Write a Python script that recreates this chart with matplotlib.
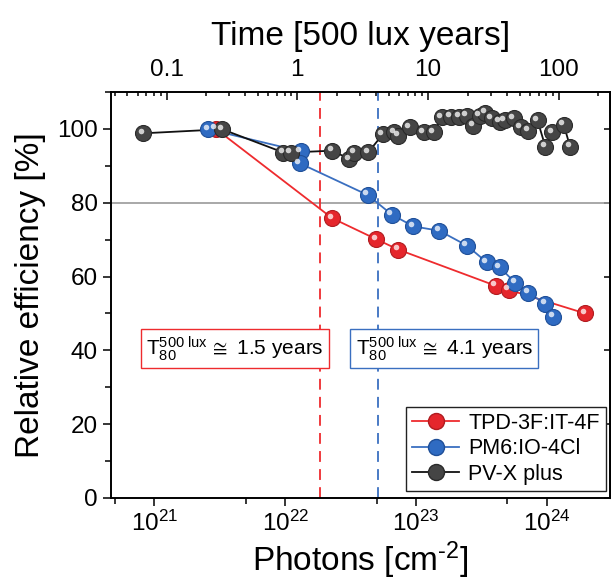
import matplotlib
matplotlib.use("Agg")
import matplotlib.pyplot as plt
from matplotlib.lines import Line2D
from matplotlib.ticker import LogLocator, MultipleLocator, NullFormatter, FuncFormatter
from matplotlib.transforms import offset_copy

plt.rcParams["font.family"] = ["Liberation Sans", "DejaVu Sans"]
plt.rcParams["mathtext.fontset"] = "custom"
plt.rcParams["mathtext.rm"] = "Liberation Sans"
plt.rcParams["mathtext.it"] = "Liberation Sans:italic"
plt.rcParams["mathtext.bf"] = "Liberation Sans:bold"
plt.rcParams["axes.unicode_minus"] = False

# photons per 500 lux year (top axis conversion)
photons_per_year = 1.24e22

# TPD-3F:IT-4F
red_x = [2.95e21, 2.29e22, 4.98e22, 7.33e22, 4.07e23, 5.13e23, 1.97e24]
red_y = [100.0, 75.8, 70.1, 67.3, 57.5, 56.4, 50.0]

# PM6:IO-4Cl
blue_x = [2.59e21, 1.32e22, 1.29e22, 4.27e22, 6.53e22, 9.55e22, 1.51e23,
          2.45e23, 3.47e23, 4.37e23, 5.75e23, 7.24e23, 9.77e23, 1.12e24]
blue_y = [99.9, 93.9, 90.7, 82.1, 76.8, 73.6, 72.4,
          68.4, 63.9, 62.5, 58.3, 55.6, 52.6, 49.1]

# PV-X plus
gray_x = [8.2e20, 3.3e21, 9.7e21, 1.1e22, 2.3e22, 3.1e22, 3.37e22, 4.33e22,
          5.6e22, 6.8e22, 7.3e22, 9.0e22, 1.15e23, 1.37e23, 1.58e23, 1.84e23,
          2.14e23, 2.45e23, 2.75e23, 3.09e23, 3.39e23, 3.8e23, 4.37e23,
          4.79e23, 5.62e23, 6.31e23, 7.24e23, 8.51e23, 9.77e23, 1.1e24,
          1.35e24, 1.51e24]
gray_y = [98.8, 99.9, 93.6, 93.6, 94.1, 91.8, 93.6, 93.7,
          98.6, 99.1, 98.1, 100.4, 99.1, 99.1, 103.2, 103.3,
          103.3, 103.6, 100.8, 103.6, 104.4, 102.9, 102.0,
          102.3, 102.9, 100.5, 99.5, 102.3, 95.2, 99.1,
          101.1, 95.2]

labels = ["TPD-3F:IT-4F", "PM6:IO-4Cl", "PV-X plus"]
t80_years = [1.5, 4.1]

fig = plt.figure(figsize=(6.11, 5.84), dpi=100)
ax = fig.add_axes([0.1817, 0.1473, 0.8167, 0.6952])

ax.set_xscale("log")
ax.set_xlim(4.66e20, 3.05e24)
ax.set_ylim(0, 110)

ax.axhline(80, color="#999999", lw=1.2, zorder=1)

series = [
    (red_x, red_y, "#ee2b2e", "#e5262c", "#b01c20"),
    (blue_x, blue_y, "#3a6fc0", "#2f6bc2", "#1f4f98"),
    (gray_x, gray_y, "#111111", "#454545", "#2a2a2a"),
]

hl = offset_copy(ax.transData, fig=fig, x=-1.8, y=1.8, units="points")
for xs, ys, lc, fc, ec in series:
    ax.plot(xs, ys, color=lc, lw=1.3, zorder=2)
    ax.plot(xs, ys, ls="none", marker="o", ms=11.5, mfc=fc, mec=ec, mew=0.8, zorder=3)
    ax.plot(xs, ys, ls="none", marker="o", ms=4, mfc="white", mec="none",
            alpha=0.75, transform=hl, zorder=4)

# T80 dashed lines and boxes
dash_colors = ["#ee2b2e", "#3a6fc0"]
box_x = [4.1e21, 1.65e23]
for t, c, bx in zip(t80_years, dash_colors, box_x):
    ax.axvline(t * photons_per_year, color=c, lw=1.3, ls=(0, (6, 4)), zorder=1)
    ax.text(bx, 40.4, r"$\mathregular{T_{80}^{500\ lux}}\,{\cong}$ " + f"{t} years",
            fontsize=15, ha="center", va="center", zorder=5,
            bbox=dict(boxstyle="square,pad=0.25", fc="white", ec=c, lw=1.0))

# ticks
ax.yaxis.set_major_locator(MultipleLocator(20))
ax.yaxis.set_minor_locator(MultipleLocator(10))
ax.xaxis.set_major_locator(LogLocator(base=10, numticks=10))
ax.xaxis.set_minor_locator(LogLocator(base=10, subs=[5], numticks=10))
ax.xaxis.set_minor_formatter(NullFormatter())
ax.tick_params(axis="both", which="major", labelsize=17.5, direction="out",
               length=6, width=1.1)
ax.tick_params(axis="both", which="minor", direction="out", length=4, width=1.1)
for sp in ax.spines.values():
    sp.set_linewidth(1.2)

# right ticks inward only (major)
axr = ax.secondary_yaxis("right")
axr.yaxis.set_major_locator(MultipleLocator(20))
axr.tick_params(direction="in", length=4, width=1.1, labelright=False)

ax.set_xlabel(r"Photons [cm$^{\text{-2}}$]", fontsize=24, labelpad=2)
ax.set_ylabel("Relative efficiency [%]", fontsize=24, labelpad=8)

# top time axis
axt = ax.twiny()
axt.set_xscale("log")
lo, hi = ax.get_xlim()
axt.set_xlim(lo / photons_per_year, hi / photons_per_year)
axt.xaxis.set_major_locator(LogLocator(base=10, numticks=10))
axt.xaxis.set_minor_locator(LogLocator(base=10, subs=range(2, 10), numticks=10))
axt.xaxis.set_minor_formatter(NullFormatter())
axt.xaxis.set_major_formatter(FuncFormatter(lambda v, p: f"{v:g}"))
axt.tick_params(axis="x", which="major", direction="in", length=6, width=1.1,
                labelsize=17.5, pad=8)
axt.tick_params(axis="x", which="minor", direction="in", length=3, width=1.1)
axt.set_xlabel("Time [500 lux years]", fontsize=24, labelpad=10)
for sp in axt.spines.values():
    sp.set_linewidth(1.2)

metaLines = [Line2D([0], [0], color=s[2], marker="o", ms=11.5, mfc=s[3], mec=s[4],
                    lw=1.3) for s in series]
leg = ax.legend(metaLines, labels, loc="lower right", bbox_to_anchor=(0.992, 0.017),
                borderaxespad=0, fontsize=15.5, handlelength=2.2, labelspacing=0.2,
                handletextpad=0.4, borderpad=0.3, fancybox=False, framealpha=1,
                edgecolor="#222222")
leg.get_frame().set_linewidth(1.0)
leg.set_zorder(6)

fig.savefig("out.png", dpi=100)
